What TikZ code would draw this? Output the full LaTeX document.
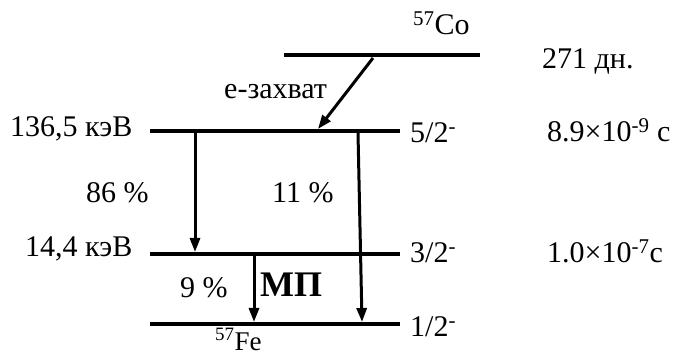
\documentclass[tikz,border=0pt]{standalone}
\usepackage{fontspec}
\setmainfont{Liberation Serif}
\usetikzlibrary{arrows.meta}
\begin{document}
\begin{tikzpicture}[x=1pt,y=-1pt,
  levelline/.style={line width=4.5pt},
  trans/.style={line width=3pt,-{Triangle[length=14pt,width=10pt]}},
  lbl/.style={inner sep=0pt,anchor=base west,font=\fontsize{30}{34}\selectfont},
  biglbl/.style={inner sep=0pt,anchor=base west,font=\fontsize{36}{40}\selectfont\bfseries},
]
\useasboundingbox (0,0) rectangle (678,358);
% levels
\coordinate (coL) at (284,55);  \coordinate (coR) at (480,55);
\coordinate (l5L) at (150,131); \coordinate (l5R) at (400,131);
\coordinate (l3L) at (150,254); \coordinate (l3R) at (400,254);
\coordinate (l1L) at (150,324); \coordinate (l1R) at (400,324);
\draw[levelline] (coL) -- (coR);
\draw[levelline] (l5L) -- (l5R);
\draw[levelline] (l3L) -- (l3R);
\draw[levelline] (l1L) -- (l1R);
% transitions
\coordinate (ecS) at (373,58);  \coordinate (ecE) at (318,129);
\coordinate (t86S) at (195,133); \coordinate (t86E) at (195,252);
\coordinate (t11S) at (358,133); \coordinate (t11E) at (362,322);
\coordinate (t9S) at (254,256);  \coordinate (t9E) at (254,322);
\draw[trans] (ecS) -- (ecE);
\draw[trans] (t86S) -- (t86E);
\draw[trans] (t11S) -- (t11E);
\draw[trans] (t9S) -- (t9E);
% labels
\node[lbl] (co) at (413,35) {\textsuperscript{57}Co};
\node[lbl] (hl) at (542,69) {271 дн.};
\node[lbl] (ec) at (224,99) {е-захват};
\node[lbl] (e136) at (10,137) {136,5 кэВ};
\node[lbl] (e14) at (25,257) {14,4 кэВ};
\node[lbl] (p86) at (86,203) {86 \%};
\node[lbl] (p11) at (272,203) {11 \%};
\node[lbl] (p9) at (180,298) {9 \%};
\node[biglbl] (mp) at (260,297) {МП};
\node[lbl] (s5) at (410,143) {5/2\textsuperscript{-}};
\node[lbl] (s3) at (410,263) {3/2\textsuperscript{-}};
\node[lbl] (s1) at (410,337) {1/2\textsuperscript{-}};
\node[lbl] (tau5) at (547,142) {8.9×10\textsuperscript{-9} с};
\node[lbl] (tau3) at (547,263) {1.0×10\textsuperscript{-7}с};
\node[lbl,font=\fontsize{27}{30}\selectfont] (fe) at (215,350) {\textsuperscript{57}Fe};
\end{tikzpicture}
\end{document}
